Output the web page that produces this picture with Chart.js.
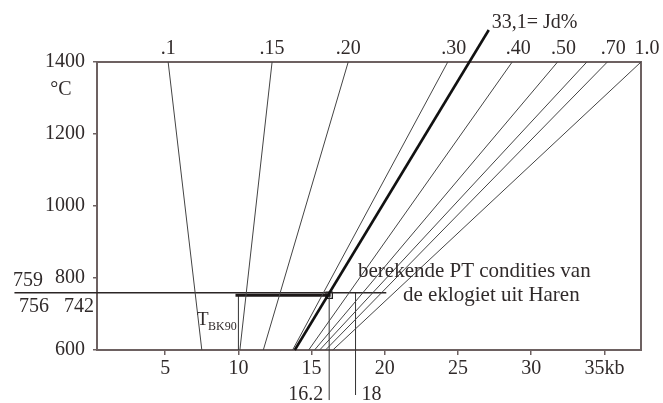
<!DOCTYPE html>
<html>
<head>
<meta charset="utf-8">
<script src="https://cdn.jsdelivr.net/npm/chart.js@4.4.1/dist/chart.umd.min.js"></script>
<style>
    html, body { margin: 0; padding: 0; background: #fff; }
    #wrap { width: 663px; height: 403px; }
</style>
</head>
<body>
<div id="wrap"><canvas id="chart"></canvas></div>
<script>
// Jd isopleths: pressure (kb) where each line meets 600 °C and 1400 °C
const JD_LABELS = ['.1', '.15', '.20', '.30', '.40', '.50', '', '.70', '1.0'];
const P_AT_600 = [7.5, 10.1, 11.7, 13.7, 14.8, 15.2, 15.55, 15.95, 16.45];
const P_AT_1400 = [5.2, 12.3, 17.5, 24.3, 28.7, 31.8, 33.8, 35.2, 37.5];

// bold Jd 33,1 line, runs past the top of the frame
const BOLD_LABEL = '33,1= Jd%';
const BOLD_P = [13.85, 27.1];
const BOLD_T = [600, 1489];

// calculated PT conditions
const T_MAX = 759;
const T_MAX_P = [-5.3, 20.1];
const T_CALC = 752;
const T_CALC_P = [9.8, 16.3];
const P_BK90 = 10;
const P_CALC = 16.2;
const P_MAX = 18;
const P_LOW_T = [461, 475];

const X_TICKS = [5, 10, 15, 20, 25, 30, 35];
const Y_TICKS = [600, 800, 1000, 1200, 1400];

const FONT = "'Liberation Serif', 'Times New Roman', serif";
const INK = '#302a2a';
const FRAME = '#6d6161';

function seg(x0, y0, x1, y1) {
    return [{ x: x0, y: y0 }, { x: x1, y: y1 }];
}

function lineSet(data, width, color) {
    return {
        data,
        showLine: true,
        borderColor: color,
        borderWidth: width,
        pointRadius: 0,
        clip: false,
    };
}

const datasets = [];

P_AT_600.forEach((p, i) => {
    datasets.push(lineSet(seg(p, 600, P_AT_1400[i], 1400), 1, '#444'));
});
datasets.push(lineSet(seg(BOLD_P[0], BOLD_T[0], BOLD_P[1], BOLD_T[1]), 2.6, '#111'));
datasets.push(lineSet(seg(T_MAX_P[0], T_MAX, T_MAX_P[1], T_MAX), 1.6, '#2b2525'));
datasets.push(lineSet(seg(T_CALC_P[0], T_CALC, T_CALC_P[1], T_CALC), 3, '#1d1818'));
datasets.push(lineSet(seg(P_BK90, 600, P_BK90, T_CALC), 1, '#333'));
datasets.push(lineSet(seg(P_CALC, P_LOW_T[0], P_CALC, T_CALC), 1, '#333'));
datasets.push(lineSet(seg(P_MAX, P_LOW_T[1], P_MAX, T_MAX), 1, '#333'));
datasets.push({
    data: [{ x: P_CALC, y: T_CALC }],
    pointStyle: 'rect',
    pointRadius: 4.5,
    pointBorderWidth: 1.3,
    pointBorderColor: '#222',
    pointBackgroundColor: 'rgba(0,0,0,0)',
    clip: false,
});

const frame = {
    id: 'frame',
    beforeDatasetsDraw(chart) {
        const { ctx, chartArea: a } = chart;
        ctx.save();
        ctx.strokeStyle = FRAME;
        ctx.lineWidth = 2;
        ctx.strokeRect(a.left, a.top, a.right - a.left, a.bottom - a.top);
        ctx.restore();
    },
};

const notes = {
    id: 'notes',
    afterDatasetsDraw(chart) {
        const { ctx } = chart;
        const x = chart.scales.x;
        const y = chart.scales.y;

        const text = (str, px, py, size, align) => {
            ctx.font = size + 'px ' + FONT;
            ctx.textAlign = align || 'left';
            ctx.fillText(str, px, py);
        };

        ctx.save();
        ctx.fillStyle = INK;
        ctx.textBaseline = 'middle';

        JD_LABELS.forEach((label, i) => {
            if (!label) return;
            const shift = i >= 3 ? 6 : 0;
            text(label, x.getPixelForValue(P_AT_1400[i]) + shift, 49, 20, 'center');
        });
        text(BOLD_LABEL, x.getPixelForValue(BOLD_P[1]) + 3, 23, 20);

        text('°C', 61, 90, 20, 'center');

        const yMax = y.getPixelForValue(T_MAX);
        text(String(T_MAX), 13, yMax - 12, 20);
        text('756', 19, yMax + 14, 20);
        text('742', 64, yMax + 14, 20);

        text('T', 197, 320, 19);
        text('BK90', 208, 327, 12);

        text('berekende PT condities van', 358, 271, 21);
        text('de eklogiet uit Haren', 403, 295, 21);

        const yBelow = 395;
        text(String(P_CALC), x.getPixelForValue(P_CALC) - 6, yBelow, 20, 'right');
        text(String(P_MAX), x.getPixelForValue(P_MAX) + 6, yBelow, 20);
        ctx.restore();
    },
};

new Chart(document.getElementById('chart'), {
    type: 'scatter',
    data: { datasets },
    options: {
        responsive: true,
        maintainAspectRatio: false,
        animation: false,
        layout: { padding: { left: 0, right: 22, top: 62, bottom: 0 } },
        plugins: { legend: { display: false }, tooltip: { enabled: false } },
        scales: {
            x: {
                type: 'linear',
                min: 0.34,
                max: 37.5,
                afterBuildTicks: (axis) => { axis.ticks = X_TICKS.map((v) => ({ value: v })); },
                afterFit: (axis) => { axis.height = 53; },
                ticks: {
                    color: INK,
                    font: { family: FONT, size: 20 },
                    padding: 2,
                    maxRotation: 0,
                    callback: (v) => (v === 35 ? '35kb' : String(v)),
                },
                grid: { drawOnChartArea: false, tickLength: 5, color: FRAME, lineWidth: 1.5 },
                border: { color: FRAME, width: 2 },
            },
            y: {
                type: 'linear',
                min: 600,
                max: 1400,
                afterBuildTicks: (axis) => { axis.ticks = Y_TICKS.map((v) => ({ value: v })); },
                afterFit: (axis) => { axis.width = 97; },
                ticks: {
                    color: INK,
                    font: { family: FONT, size: 20 },
                    padding: 8,
                    callback: (v) => String(v),
                },
                grid: { drawOnChartArea: false, tickLength: 4, color: FRAME, lineWidth: 1.5 },
                border: { color: FRAME, width: 2 },
            },
        },
    },
    plugins: [frame, notes],
});
</script>
</body>
</html>
